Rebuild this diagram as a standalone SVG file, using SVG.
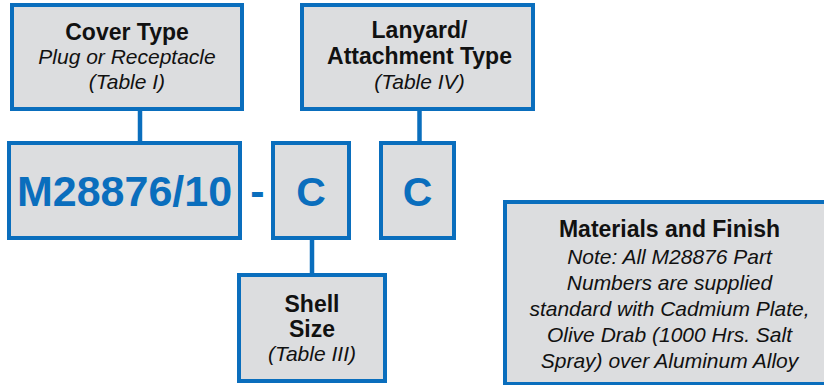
<svg xmlns="http://www.w3.org/2000/svg" width="824" height="385" viewBox="0 0 824 385">
<style>
.box{fill:#DCDDDF;stroke:#0A6EBD;stroke-width:4}
.conn{stroke:#0A6EBD;stroke-width:4.5;fill:none}
.b{font-family:"Liberation Sans",Arial,sans-serif;font-weight:bold;font-size:23px;fill:#111;text-anchor:middle}
.i{font-family:"Liberation Sans",Arial,sans-serif;font-style:italic;font-size:21px;fill:#111;text-anchor:middle}
.big{font-family:"Liberation Sans",Arial,sans-serif;font-weight:bold;fill:#0A6EBD;text-anchor:middle}
</style>
<rect width="824" height="385" fill="#fff"/>
<g id="connectors">
<line class="conn" x1="140" y1="109" x2="140" y2="143"/>
<line class="conn" x1="419.5" y1="109" x2="419.5" y2="143"/>
<line class="conn" x1="312" y1="238" x2="312" y2="275"/>
</g>
<g id="cover-type">
<rect class="box" x="12" y="5" width="230" height="104"/>
<text class="b" x="127" y="39.5">Cover Type</text>
<text class="i" x="127" y="64">Plug or Receptacle</text>
<text class="i" x="127" y="88.5">(Table I)</text>
</g>
<g id="lanyard-type">
<rect class="box" x="302" y="5" width="231" height="104"/>
<text class="b" x="419.5" y="38">Lanyard/</text>
<text class="b" x="419.5" y="63.5">Attachment Type</text>
<text class="i" x="419.5" y="88.5">(Table IV)</text>
</g>
<g id="base-part">
<rect class="box" x="9" y="143" width="231" height="95"/>
<text class="big" x="124.5" y="206" font-size="43">M28876/10</text>
</g>
<g id="dash">
<text class="big" x="257.5" y="206" font-size="43">-</text>
</g>
<g id="shell-code">
<rect class="box" x="273" y="143" width="76" height="95"/>
<text class="big" x="311" y="206" font-size="41">C</text>
</g>
<g id="lanyard-code">
<rect class="box" x="381" y="143" width="73" height="95"/>
<text class="big" x="417.5" y="206" font-size="41">C</text>
</g>
<g id="shell-size">
<rect class="box" x="239" y="275" width="146" height="106"/>
<text class="b" x="312" y="311.5">Shell</text>
<text class="b" x="312" y="336.5">Size</text>
<text class="i" x="312" y="361">(Table III)</text>
</g>
<g id="materials">
<rect class="box" x="505" y="202" width="340" height="182"/>
<text class="b" x="669.5" y="237">Materials and Finish</text>
<text class="i" x="669.5" y="263.5" font-size="20.5">Note: All M28876 Part</text>
<text class="i" x="669.5" y="290" font-size="20.5">Numbers are supplied</text>
<text class="i" x="669.5" y="316" font-size="20.5">standard with Cadmium Plate,</text>
<text class="i" x="669.5" y="342" font-size="20.5">Olive Drab (1000 Hrs. Salt</text>
<text class="i" x="669.5" y="368" font-size="20.5">Spray) over Aluminum Alloy</text>
</g>
</svg>
